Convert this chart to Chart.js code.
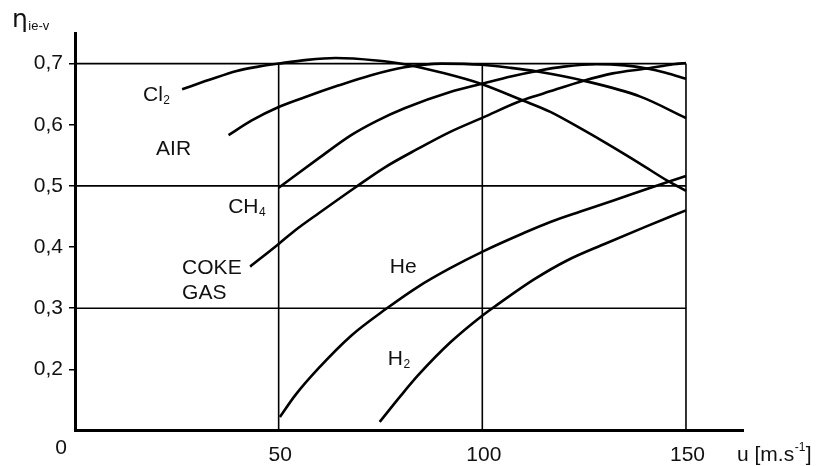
<!DOCTYPE html>
<html>
<head>
<meta charset="utf-8">
<script src="https://cdn.jsdelivr.net/npm/chart.js@4.4.1/dist/chart.umd.min.js"></script>
<style>
  html, body { margin: 0; padding: 0; background: #fff; }
  #wrap { width: 818px; height: 466px; }
</style>
</head>
<body>
<div id="wrap"><canvas id="c" width="818" height="466"></canvas></div>
<script>
// Isentropic efficiency against flow speed u, one curve per gas
const speedCl2 = [26.3, 32.8, 39.7, 45, 50, 57, 64, 74, 80.9, 90.7, 99.6, 109.8, 116.7, 124.9, 130.6, 138.8, 145.3, 150];
const etaCl2   = [0.658, 0.673, 0.688, 0.695, 0.700, 0.706, 0.709, 0.705, 0.699, 0.684, 0.667, 0.640, 0.621, 0.591, 0.569, 0.536, 0.509, 0.492];

const speedAir = [37.7, 43.4, 50, 56.4, 64.6, 72.7, 80.9, 90, 100, 107, 113.5, 124.9, 138.8, 150];
const etaAir   = [0.583, 0.607, 0.629, 0.645, 0.664, 0.681, 0.694, 0.700, 0.698, 0.693, 0.687, 0.672, 0.646, 0.611];

const speedCH4 = [50, 59.7, 67.8, 74, 80.9, 92.3, 100.2, 107, 113.5, 120, 128, 135, 140.4, 145, 150];
const etaCH4   = [0.497, 0.5445, 0.583, 0.606, 0.627, 0.654, 0.6675, 0.679, 0.688, 0.695, 0.699, 0.697, 0.692, 0.685, 0.675];

const speedCoke = [43, 50, 54, 60, 68.7, 76, 84, 92, 100.2, 109.8, 115, 124.9, 132, 140.4, 146.9, 150];
const etaCoke   = [0.368, 0.405, 0.427, 0.456, 0.497, 0.530, 0.560, 0.588, 0.612, 0.640, 0.651, 0.672, 0.684, 0.692, 0.699, 0.701];

const speedHe = [50.3, 54, 59.7, 67.8, 76.4, 84.2, 92, 100.2, 110.2, 116.7, 124.1, 132.2, 140.4, 150];
const etaHe   = [0.122, 0.157, 0.201, 0.255, 0.299, 0.335, 0.365, 0.393, 0.423, 0.441, 0.458, 0.476, 0.495, 0.516];

const speedH2 = [74.8, 80, 84.2, 92.3, 100.2, 102.9, 112.7, 120.8, 130, 140, 150];
const etaH2   = [0.114, 0.157, 0.190, 0.245, 0.289, 0.302, 0.347, 0.378, 0.405, 0.433, 0.460];

// Axis ticks and reference lines
const yTickValues = [0.2, 0.3, 0.4, 0.5, 0.6, 0.7];
const xTickValues = [50, 100, 150];
const gridRows = [0.3, 0.5, 0.7];
const gridCols = [50, 100, 150];

const FONT = '"Liberation Sans", Arial, sans-serif';
const INK = '#111';

// Curve labels: main text, subscript, anchor in data units (left, baseline)
const curveLabels = [
  { main: 'Cl',   sub: '2', at: [16.7, 0.639] },
  { main: 'AIR',  sub: '',  at: [19.9, 0.5505] },
  { main: 'CH',   sub: '4', at: [37.6, 0.4557] },
  { main: 'COKE', sub: '',  at: [26.3, 0.3559] },
  { main: 'GAS',  sub: '',  at: [26.3, 0.315] },
  { main: 'He',   sub: '',  at: [77.3, 0.3576] },
  { main: 'H',    sub: '2', at: [76.8, 0.2073] }
];

function pairs(xs, ys) { return xs.map((x, i) => ({ x: x, y: ys[i] })); }

function curve(xs, ys) {
  return {
    data: pairs(xs, ys),
    showLine: true,
    borderColor: '#000',
    borderWidth: 2.6,
    pointRadius: 0,
    fill: false,
    cubicInterpolationMode: 'monotone'
  };
}

const frame = {
  id: 'frame',
  beforeDatasetsDraw(chart) {
    const { ctx, scales: { x, y } } = chart;
    ctx.save();
    ctx.strokeStyle = '#000';
    ctx.lineWidth = 1.6;
    const x0 = x.getPixelForValue(0), xEnd = x.getPixelForValue(150);
    const yBottom = y.getPixelForValue(y.min), yTop = y.getPixelForValue(0.7);
    gridRows.forEach(v => {
      const py = y.getPixelForValue(v);
      ctx.beginPath(); ctx.moveTo(x0, py); ctx.lineTo(xEnd, py); ctx.stroke();
    });
    gridCols.forEach(v => {
      const px = x.getPixelForValue(v);
      ctx.beginPath(); ctx.moveTo(px, yBottom); ctx.lineTo(px, yTop); ctx.stroke();
    });
    ctx.restore();
  },
  afterDraw(chart) {
    const { ctx, scales: { x, y } } = chart;
    ctx.save();
    ctx.fillStyle = INK;
    ctx.textBaseline = 'alphabetic';

    // speed ticks under the axis
    ctx.font = '21px ' + FONT;
    ctx.textAlign = 'center';
    const base = y.getPixelForValue(y.min);
    xTickValues.forEach(v => ctx.fillText(String(v), x.getPixelForValue(v) + 1.5, base + 30));
    ctx.fillText('0', x.getPixelForValue(0) - 14, base + 23);

    // curve names
    ctx.textAlign = 'left';
    curveLabels.forEach(l => {
      const px = x.getPixelForValue(l.at[0]);
      const py = y.getPixelForValue(l.at[1]);
      ctx.font = '21px ' + FONT;
      ctx.fillText(l.main, px, py);
      if (l.sub) {
        const w = ctx.measureText(l.main).width;
        ctx.font = '12px ' + FONT;
        ctx.fillText(l.sub, px + w + 0.5, py + 3);
      }
    });

    // axis titles
    const ax = x.getPixelForValue(x.max);
    ctx.font = '21px ' + FONT;
    let tx = ax - 6;
    const ty = base + 30;
    ctx.fillText('u [m.s', tx, ty);
    tx += ctx.measureText('u [m.s').width;
    ctx.font = '12px ' + FONT;
    ctx.fillText('-1', tx + 0.5, ty - 10);
    tx += ctx.measureText('-1').width + 1;
    ctx.font = '21px ' + FONT;
    ctx.fillText(']', tx, ty);

    const left = x.getPixelForValue(0);
    const top = y.getPixelForValue(y.max);
    ctx.font = '25px "DejaVu Sans", ' + FONT;
    ctx.fillText('\u03b7', left - 63, top - 6);
    const ew = ctx.measureText('\u03b7').width;
    ctx.font = '13px ' + FONT;
    ctx.fillText('ie-v', left - 63 + ew + 0.5, top - 3);
    ctx.restore();
  }
};

new Chart(document.getElementById('c'), {
  type: 'scatter',
  data: {
    datasets: [
      curve(speedCl2, etaCl2),
      curve(speedAir, etaAir),
      curve(speedCH4, etaCH4),
      curve(speedCoke, etaCoke),
      curve(speedHe, etaHe),
      curve(speedH2, etaH2)
    ]
  },
  options: {
    responsive: false,
    animation: false,
    devicePixelRatio: 1,
    layout: { padding: { top: 33, right: 75, left: 0, bottom: 0 } },
    plugins: { legend: { display: false }, tooltip: { enabled: false } },
    scales: {
      x: {
        type: 'linear',
        min: 0,
        max: 164,
        grid: { display: false },
        border: { display: true, color: '#000', width: 3 },
        ticks: { display: false },
        afterFit(s) { s.height = 35.5; }
      },
      y: {
        type: 'linear',
        min: 0.1,
        max: 0.75,
        afterBuildTicks(s) { s.ticks = yTickValues.map(v => ({ value: v })); },
        grid: { display: true, drawOnChartArea: false, drawTicks: true, tickLength: 6, color: '#000', lineWidth: 1.5 },
        border: { display: true, color: '#000', width: 3 },
        ticks: {
          color: INK,
          padding: 6,
          font: { family: FONT, size: 21 },
          callback: v => Number(v).toFixed(1).replace('.', ',')
        },
        afterFit(s) { s.width = 75; }
      }
    }
  },
  plugins: [frame]
});
</script>
</body>
</html>
